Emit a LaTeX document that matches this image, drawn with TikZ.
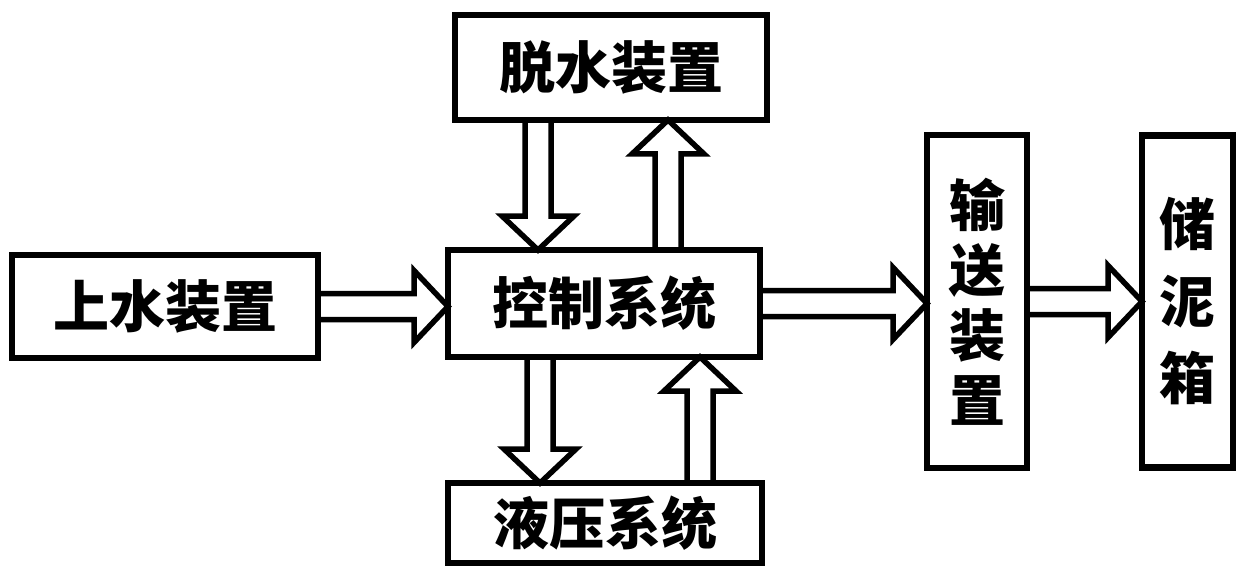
\documentclass[tikz,border=0pt]{standalone}
\usepackage{fontspec}
\newfontfamily\cjk{Noto Sans CJK SC}
\usepackage{tikz}
\usetikzlibrary{positioning, calc}

\newcommand{\shaft}{13pt}
\newcommand{\headw}{36pt}
\newcommand{\headl}{34pt}

\begin{document}
\begin{tikzpicture}[x=1pt, y=-1pt, node distance=130pt]

    % Define the styles for the boxes and the hollow arrows
    \tikzset{box/.style={rectangle, draw, line width=6.5pt, inner sep=0pt, outer sep=0pt,
                 font=\cjk\bfseries\fontsize{56}{65}\selectfont, align=center},
             fat/.style={line width=5.5pt, line join=miter,
                 to path={
                   ($(\tikztostart)!\shaft!90:(\tikztotarget)$)
                   -- ($($(\tikztotarget)!\headl!(\tikztostart)$)!\shaft!-90:(\tikztostart)$)
                   -- ($($(\tikztotarget)!\headl!(\tikztostart)$)!\headw!-90:(\tikztostart)$)
                   -- (\tikztotarget)
                   -- ($($(\tikztotarget)!\headl!(\tikztostart)$)!\headw!90:(\tikztostart)$)
                   -- ($($(\tikztotarget)!\headl!(\tikztostart)$)!\shaft!90:(\tikztostart)$)
                   -- ($(\tikztostart)!\shaft!-90:(\tikztotarget)$)}}}

    \useasboundingbox (0,0) rectangle (1246,572);

    % Nodes
    \node[box, minimum width=312pt, minimum height=107pt] (ctrl) at (604,303.5) {控制系统};
    \node[box, minimum width=306pt, minimum height=103pt, left=of ctrl, yshift=-3pt] (feed) {上水装置};
    \node[box, minimum width=312pt, minimum height=105pt, above=of ctrl, xshift=7pt] (dewater) {脱水装置};
    \node[box, minimum width=314pt, minimum height=80pt, below=126pt of ctrl, xshift=1pt] (hydr) {液压系统};
    \node[box, minimum width=100pt, minimum height=333pt, right=167pt of ctrl, yshift=2pt] (convey) {输\\送\\装\\置};
    \node[box, minimum width=91pt, minimum height=332pt, right=115pt of convey,
          font=\cjk\bfseries\fontsize{56}{77}\selectfont] (store) {储\\泥\\箱};

    % Paths
    \path[fat]
    (feed.east) edge (feed.east -| ctrl.west)
    (ctrl.east) edge (ctrl.east -| convey.west)
    (convey.east) edge (convey.east -| store.west)
    ([xshift=-73pt]dewater.south) edge ([xshift=-66pt]ctrl.north)
    ([xshift=64pt]ctrl.north) edge ([xshift=57pt]dewater.south)
    ([xshift=-64pt]ctrl.south) edge ([xshift=-65pt]hydr.north)
    ([xshift=95pt]hydr.north) edge ([xshift=96pt]ctrl.south);
\end{tikzpicture}
\end{document}
